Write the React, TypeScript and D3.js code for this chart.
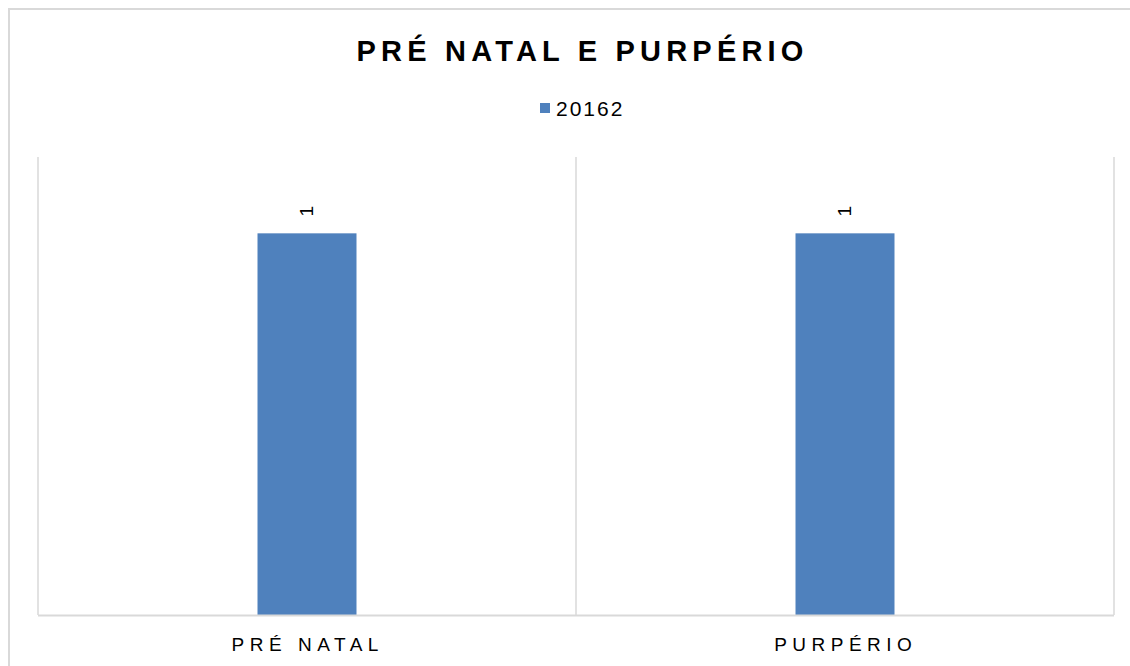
import React from "react";
import * as d3 from "d3";

const categories = ["PRÉ NATAL", "PURPÉRIO"];
const seriesName = "20162";
const values = [1, 1];
const title = "PRÉ NATAL E PURPÉRIO";

export default function App() {
  const W = 1130, H = 666;
  const left = 38, right = 1114, top = 157, bottom = 615;
  const x = d3.scaleBand<string>().domain(categories).range([left, right]).paddingInner(0).paddingOuter(0);
  const y = d3.scaleLinear().domain([0, 1.2]).range([bottom, top]);
  const barW = x.bandwidth() * 0.184;
  const font = "'Liberation Sans', Arial, sans-serif";
  const grid = "#d9d9d9";
  const bounds = [...categories.map((c) => x(c)!), right];
  const tSp = 5.2, cSp = 5.5, lSp = 2;
  return (
    <svg width={W} height={H} style={{ position: "absolute", left: 0, top: 0, background: "#fff" }} fontFamily={font}>
      <rect x={9} y={9} width={1140} height={680} fill="#fff" stroke={grid} strokeWidth={2} />
      <text x={580 + tSp / 2} y={61} textAnchor="middle" fontSize={29} fontWeight="bold" letterSpacing={tSp} fill="#000">{title}</text>
      <rect x={540} y={103} width={10} height={10} fill="#4f81bd" />
      <text x={556} y={116} fontSize={21} letterSpacing={lSp} fill="#000">{seriesName}</text>
      {bounds.map((bx, i) => (
        <line key={i} x1={bx} x2={bx} y1={top} y2={bottom} stroke={grid} strokeWidth={1.5} />
      ))}
      {categories.map((c, i) => {
        const cx = x(c)! + x.bandwidth() / 2;
        return (
          <g key={c}>
            <rect x={cx - barW / 2} y={y(values[i])} width={barW} height={bottom - y(values[i])} fill="#4f81bd" />
            <text transform={`translate(${cx + 6},${y(values[i]) - 22}) rotate(-90)`} textAnchor="middle" fontSize={19} fill="#000">{values[i]}</text>
            <text x={cx + cSp / 2 - 2} y={650.5} textAnchor="middle" fontSize={19} letterSpacing={cSp} fill="#000">{c}</text>
          </g>
        );
      })}
      <line x1={left} x2={right} y1={bottom + 0.5} y2={bottom + 0.5} stroke={grid} strokeWidth={2} />
    </svg>
  );
}
